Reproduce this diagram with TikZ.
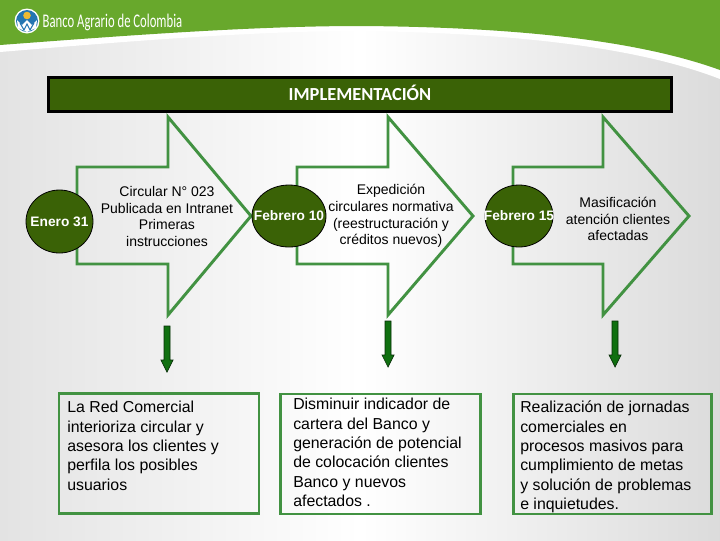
\documentclass[tikz,border=0pt]{standalone}
\usepackage{fontspec}
\setmainfont{Liberation Sans}
\newfontfamily\titlefont{Carlito}
\usepackage{xcolor}
\usetikzlibrary{positioning, shapes.geometric}
\definecolor{BandGreen}{RGB}{104, 168, 44}
\definecolor{DarkGreen}{RGB}{58, 98, 6}
\definecolor{LineGreen}{RGB}{66, 146, 66}
\definecolor{DropGreen}{RGB}{16, 112, 16}
\definecolor{LogoBlue}{RGB}{36, 118, 178}
\definecolor{LogoSun}{RGB}{238, 186, 50}
\tikzset{
  datecircle/.style={draw=black, fill=DarkGreen, ellipse, inner sep=0pt, line width=.6pt},
  datetext/.style={text=white, font=\fontsize{10.3}{12}\selectfont\bfseries},
  arrowtext/.style={align=center, inner sep=0pt, font=\fontsize{10.5}{12.6}\selectfont},
  infobox/.style={draw=LineGreen, line width=2.2pt, inner sep=0pt},
  boxtext/.style={align=left, anchor=north west, inner sep=0pt, font=\fontsize{11.9}{14.5}\selectfont},
}

\begin{document}
\begin{tikzpicture}[x=.75pt, y=-.75pt]
        \useasboundingbox (0,0) rectangle (720,540);
        % page and header
        \shade[left color=black!11, right color=black!14, middle color=white] (0,0) rectangle (720,540);
        \fill[white] (0,0) -- (720,0) -- (720,79) .. controls (640,48) and (520,33) .. (360,31) .. controls (250,31) and (120,42) .. (0,52) -- cycle;
        \fill[BandGreen] (0,0) -- (720,0) -- (720,70) .. controls (640,41) and (520,27) .. (360,26) .. controls (250,26) and (120,36) .. (0,45) -- cycle;
        % logo
        \fill[white] (27,21) circle (12.5);
        \fill[LogoBlue] (27,21) circle (11);
        \fill[white] (17,20) -- (22,25) -- (27,20) -- (32,25) -- (37,20) -- (36,28) -- (27,32) -- (18,28) -- cycle;
        \draw[LogoBlue, line width=.8pt] (20,23) -- (24,30) -- (27,24) -- (30,30) -- (34,23);
        \fill[LogoSun] (27,15.5) circle (3.8);
        \node[text=white, inner sep=0pt, font=\titlefont\fontsize{14.5}{16}\selectfont] (bankname) at (112.5,22) {\scalebox{.656}[1]{Banco Agrario de Colombia}};
        % title bar
        \node[draw=black, fill=DarkGreen, line width=2.2pt, minimum width=467pt, minimum height=25.5pt, inner sep=0pt] (title) at (360,94.5) {};
        \node[text=white, inner sep=0pt, font=\titlefont\fontsize{13.8}{15}\selectfont\bfseries] (titletext) at (360,93) {IMPLEMENTACIÓN};
        % large arrows
        \foreach \left/\neck/\tip in {77/168/251, 297/388/473, 513/603/689}
          \draw[LineGreen, line width=2.2pt, miter limit=10] (\left,167) -- (\neck,167) -- (\neck,117) -- (\tip,216) -- (\neck,315) -- (\neck,264) -- (\left,264) -- cycle;
        % drop arrows
        \foreach \mid/\top in {167/326, 388/321, 615/321}
          \draw[black!60!DropGreen, fill=DropGreen, line width=.5pt] (\mid-3,\top) -- (\mid+3,\top) -- (\mid+3,\top+34) -- (\mid+6,\top+34) -- (\mid,\top+46) -- (\mid-6,\top+34) -- (\mid-3,\top+34) -- cycle;
        % dates
        \node[datecircle, minimum width=50.25pt, minimum height=47.25pt] (enero) at (59.5,221.5) {};
        \node[datetext] (enerotext) at (enero) {Enero 31};
        \node[datecircle, minimum width=55.5pt, minimum height=46.5pt] (febdiez) at (289,216) {};
        \node[datetext] (febdieztext) at (febdiez) {Febrero 10};
        \node[datecircle, minimum width=51pt, minimum height=46.5pt] (febquince) at (519,216) {};
        \node[datetext] (febquincetext) at (febquince) {Febrero 15};
        % arrow texts
        \node[arrowtext] (circular) at (167,216.5) {Circular N° 023\\Publicada en Intranet\\Primeras\\instrucciones};
        \node[arrowtext] (expedicion) at (391,216) {Expedición\\circulares normativa\\(reestructuración y\\créditos nuevos)};
        \node[arrowtext] (masificacion) at (618,219) {Masificación\\atención clientes\\afectadas};
        % lower boxes
        \node[infobox, minimum width=150pt, minimum height=89.5pt] (boxred) at (159,453.5) {};
        \node[boxtext] (redtext) at (67,401) {La Red Comercial\\interioriza circular y\\asesora los clientes y\\perfila los posibles\\usuarios};
        \node[infobox, minimum width=150.5pt, minimum height=90pt] (boxcartera) at (380.5,454) {};
        \node[boxtext] (carteratext) at (293,398) {Disminuir indicador de\\cartera del Banco y\\generación de potencial\\de colocación clientes\\Banco y nuevos\\afectados .};
        \node[infobox, minimum width=149pt, minimum height=90pt] (boxjornadas) at (612.5,454) {};
        \node[boxtext] (jornadastext) at (520,401) {Realización de jornadas\\comerciales en\\procesos masivos para\\cumplimiento de metas\\y solución de problemas\\e inquietudes.};
\end{tikzpicture}
\end{document}
